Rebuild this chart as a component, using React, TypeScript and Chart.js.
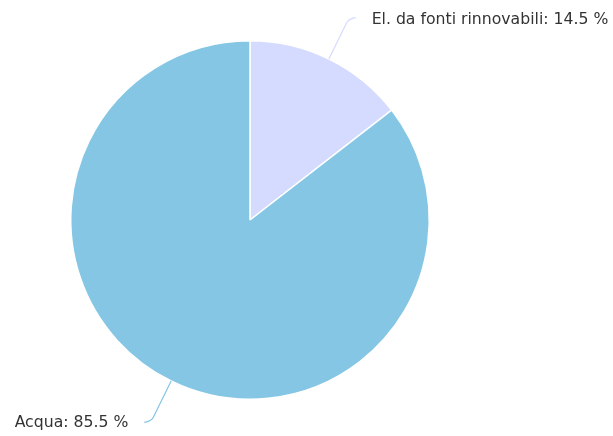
import React, { useEffect, useRef } from "react";
import { Chart, registerables } from "chart.js";

Chart.register(...registerables);

const categories = ["El. da fonti rinnovabili", "Acqua"];
const values = [14.5, 85.5];
const colors = ["#d4dbff", "#84c6e4"];

const labelPlugin = {
  id: "pieLabels",
  afterDraw(chart: any) {
    const ctx = chart.ctx;
    const meta = chart.getDatasetMeta(0);
    const dist = 45;
    ctx.save();
    ctx.font = "15.7px 'DejaVu Sans'";
    ctx.fillStyle = "#333333";
    ctx.textBaseline = "middle";
    meta.data.forEach((arc: any, i: number) => {
      const { x, y, startAngle, endAngle, outerRadius } = arc.getProps(
        ["x", "y", "startAngle", "endAngle", "outerRadius"],
        true
      );
      const mid = (startAngle + endAngle) / 2;
      const cos = Math.cos(mid);
      const sin = Math.sin(mid);
      const p0x = x + outerRadius * cos;
      const p0y = y + outerRadius * sin;
      const p1x = x + (outerRadius + dist) * cos;
      const p1y = y + (outerRadius + dist) * sin;
      const right = cos >= 0;
      const dir = right ? 1 : -1;
      const t = 0.9;
      const bx = p0x + (p1x - p0x) * t;
      const by = p0y + (p1y - p0y) * t;
      const ex = p1x + dir * 7;
      const ey = p1y + (right ? -1 : 1) * 1;
      ctx.strokeStyle = colors[i];
      ctx.lineWidth = 1.2;
      ctx.beginPath();
      ctx.moveTo(p0x, p0y);
      ctx.lineTo(bx, by);
      ctx.quadraticCurveTo(p1x, p1y, ex, ey);
      ctx.stroke();
      const text = `${categories[i]}: ${values[i]} %`;
      ctx.textAlign = right ? "left" : "right";
      ctx.fillText(text, p1x + dir * 23, p1y + 1.5);
    });
    ctx.restore();
  },
};

export default function App() {
  const ref = useRef<HTMLCanvasElement | null>(null);
  useEffect(() => {
    document.body.style.margin = "0";
    const chart = new Chart(ref.current as HTMLCanvasElement, {
      type: "pie",
      data: {
        labels: categories,
        datasets: [
          {
            data: values,
            backgroundColor: colors,
            borderColor: "#ffffff",
            borderWidth: 1.5,
          },
        ],
      },
      options: {
        animation: false,
        responsive: true,
        maintainAspectRatio: false,
        layout: { padding: { left: 70, right: 183, top: 40, bottom: 36 } },
        plugins: { legend: { display: false }, tooltip: { enabled: false } },
      },
      plugins: [labelPlugin],
    });
    return () => chart.destroy();
  }, []);
  return (
    <div style={{ position: "absolute", left: 0, top: 0, width: 613, height: 436 }}>
      <canvas ref={ref} />
    </div>
  );
}
